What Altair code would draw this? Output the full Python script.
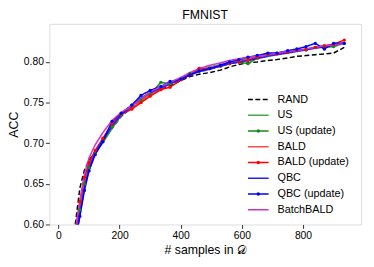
import altair as alt
import pandas as pd

samples = [55, 70, 85, 100, 120, 145, 175, 205, 240, 270, 300, 335, 365, 400, 430,
           460, 495, 530, 560, 590, 620, 650, 685, 715, 750, 780, 810, 840, 870, 900, 935]

rand = [0.600, 0.645, 0.667, 0.679, 0.690, 0.703, 0.718, 0.733, 0.744, 0.752, 0.760, 0.767, 0.771, 0.777, 0.782,
        0.785, 0.787, 0.790, 0.794, 0.797, 0.799, 0.800, 0.802, 0.803, 0.805, 0.807, 0.808, 0.809, 0.810, 0.811, 0.818]
us = [0.585, 0.620, 0.650, 0.672, 0.688, 0.700, 0.718, 0.734, 0.746, 0.754, 0.761, 0.768, 0.774, 0.780, 0.785,
      0.790, 0.794, 0.797, 0.800, 0.802, 0.804, 0.807, 0.809, 0.811, 0.813, 0.814, 0.816, 0.818, 0.820, 0.821, 0.823]
us_upd = [0.583, 0.618, 0.650, 0.670, 0.687, 0.702, 0.720, 0.735, 0.747, 0.753, 0.760, 0.775, 0.773, 0.779, 0.786,
          0.789, 0.792, 0.795, 0.798, 0.800, 0.798, 0.805, 0.809, 0.811, 0.812, 0.815, 0.815, 0.818, 0.818, 0.819, 0.823]
bald = [0.588, 0.625, 0.655, 0.676, 0.690, 0.705, 0.722, 0.735, 0.743, 0.752, 0.760, 0.767, 0.773, 0.779, 0.785,
        0.789, 0.793, 0.796, 0.799, 0.801, 0.803, 0.806, 0.808, 0.810, 0.812, 0.814, 0.816, 0.818, 0.819, 0.821, 0.824]
bald_upd = [0.590, 0.628, 0.658, 0.676, 0.691, 0.706, 0.724, 0.736, 0.742, 0.750, 0.758, 0.766, 0.769, 0.778, 0.784,
            0.792, 0.792, 0.795, 0.798, 0.800, 0.802, 0.806, 0.810, 0.810, 0.812, 0.815, 0.815, 0.818, 0.820, 0.822, 0.827]
qbc = [0.580, 0.612, 0.645, 0.668, 0.688, 0.704, 0.721, 0.735, 0.746, 0.756, 0.762, 0.768, 0.773, 0.779, 0.784,
       0.788, 0.791, 0.795, 0.798, 0.800, 0.802, 0.804, 0.807, 0.809, 0.811, 0.813, 0.815, 0.817, 0.819, 0.821, 0.823]
qbc_upd = [0.578, 0.610, 0.642, 0.666, 0.686, 0.702, 0.727, 0.737, 0.747, 0.759, 0.765, 0.770, 0.776, 0.779, 0.784,
           0.789, 0.792, 0.796, 0.800, 0.803, 0.806, 0.808, 0.811, 0.811, 0.814, 0.816, 0.819, 0.823, 0.816, 0.823, 0.823]
batchbald = [0.592, 0.630, 0.662, 0.682, 0.698, 0.713, 0.728, 0.738, 0.746, 0.755, 0.763, 0.770, 0.775, 0.781, 0.787,
             0.792, 0.796, 0.799, 0.802, 0.804, 0.806, 0.807, 0.809, 0.811, 0.813, 0.814, 0.816, 0.818, 0.820, 0.821, 0.823]

names = ["RAND", "US", "US (update)", "BALD", "BALD (update)", "QBC", "QBC (update)", "BatchBALD"]
series = [rand, us, us_upd, bald, bald_upd, qbc, qbc_upd, batchbald]
colors = ["#000000", "#4aa84a", "#138a13", "#ff4a4a", "#ff0000", "#1f1fff", "#0000ff", "#cc33cc"]
dashes = [[5, 2.5], [1, 0], [1, 0], [1, 0], [1, 0], [1, 0], [1, 0], [1, 0]]
updated = [n for n in names if "update" in n]

rows = []
for k, (n, vals) in enumerate(zip(names, series)):
    for i, (x, v) in enumerate(zip(samples, vals)):
        rows.append({"name": n, "k": k, "x": x, "acc": v, "i": i})
df = pd.DataFrame(rows)

leg = pd.DataFrame({"name": names, "rank": list(range(len(names)))})

font = "Liberation Sans"
cscale = alt.Scale(domain=names, range=colors)
dscale = alt.Scale(domain=names, range=dashes)

xenc = alt.X("x:Q", scale=alt.Scale(domain=[-30, 990], nice=False),
             axis=alt.Axis(values=[0, 200, 400, 600, 800], title="# samples in 𝒟",
                           grid=False, tickSize=4, labelFontSize=10.5, titleFontSize=12.5,
                           titleFontWeight="normal", labelColor="black", titleColor="black",
                           domain=False, tickColor="#333", titlePadding=3, labelPadding=2))
yenc = alt.Y("acc:Q", scale=alt.Scale(domain=[0.60, 0.847], nice=False, zero=False),
             axis=alt.Axis(values=[0.60, 0.65, 0.70, 0.75, 0.80], format=".2f", title="ACC",
                           grid=False, tickSize=4, labelFontSize=10.5, titleFontSize=12.5,
                           titleFontWeight="normal", labelColor="black", titleColor="black",
                           domain=False, tickColor="#333", titlePadding=3, labelPadding=2))

lines = alt.Chart(df).mark_line(strokeWidth=1.5, clip=True).encode(
    x=xenc, y=yenc,
    color=alt.Color("name:N", scale=cscale, legend=None),
    strokeDash=alt.StrokeDash("name:N", scale=dscale, legend=None),
    detail="name:N",
    order="i:Q",
)
pts = alt.Chart(df).transform_filter(
    alt.FieldOneOfPredicate(field="name", oneOf=updated)
).mark_point(filled=True, size=12, opacity=1, clip=True).encode(
    x="x:Q", y="acc:Q",
    color=alt.Color("name:N", scale=cscale, legend=None),
)
main = alt.layer(lines, pts)

ly = alt.Y("rank:Q", scale=alt.Scale(domain=[0, 7], range=[77, 189]), axis=None)
leg_rule = alt.Chart(leg).mark_rule(strokeWidth=1.5).encode(
    x=alt.value(202), x2=alt.value(223), y=ly,
    color=alt.Color("name:N", scale=cscale, legend=None),
    strokeDash=alt.StrokeDash("name:N", scale=dscale, legend=None),
)
leg_pt = alt.Chart(leg).transform_filter(
    alt.FieldOneOfPredicate(field="name", oneOf=updated)
).mark_point(filled=True, size=12, opacity=1).encode(
    x=alt.value(212.5), y=ly,
    color=alt.Color("name:N", scale=cscale, legend=None),
)
leg_txt = alt.Chart(leg).mark_text(align="left", baseline="middle", fontSize=11, font=font,
                                   color="black").encode(
    x=alt.value(232), y=ly, text="name:N")
legend = alt.layer(leg_rule, leg_pt, leg_txt)

chart = alt.layer(main, legend).resolve_scale(y="independent").properties(
    width=317, height=204,
    title=alt.TitleParams("FMNIST", fontSize=12.5, font=font, fontWeight="normal", color="black",
                          anchor="middle", offset=2),
    autosize=alt.AutoSizeParams(type="none"),
    padding={"left": 42, "top": 14, "right": 5, "bottom": 35},
).configure_view(stroke="#444", strokeWidth=1).configure_axis(
    labelFont=font, titleFont=font
).configure(background="white")

chart.save("out.html", embed_options={"renderer": "svg", "actions": False})
